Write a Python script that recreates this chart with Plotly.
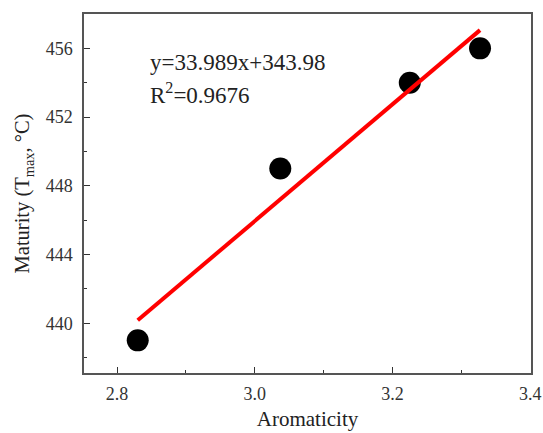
import plotly.graph_objects as go

aromaticity = [2.83, 3.037, 3.225, 3.327]
maturity = [439.0, 449.0, 454.0, 456.0]
fit_slope = 33.989
fit_intercept = 343.98
r_squared = 0.9676

fit_x = [min(aromaticity), max(aromaticity)]
fit_y = [fit_slope * v + fit_intercept for v in fit_x]

font_family = "Liberation Serif"

fig = go.Figure()
fig.add_trace(go.Scatter(x=aromaticity, y=maturity, mode="markers",
                         marker=dict(color="black", size=22), showlegend=False))
fig.add_trace(go.Scatter(x=fit_x, y=fit_y, mode="lines",
                         line=dict(color="#ff0000", width=4), showlegend=False))

fig.add_annotation(x=0.143, y=0.865, xref="paper", yref="paper", xanchor="left", yanchor="middle",
                   text=f"y={fit_slope}x+{fit_intercept}", showarrow=False,
                   font=dict(family=font_family, size=23, color="#222"))
fig.add_annotation(x=0.143, y=0.778, xref="paper", yref="paper", xanchor="left", yanchor="middle",
                   text=f"R<sup>2</sup>={r_squared}", showarrow=False,
                   font=dict(family=font_family, size=23, color="#222"))

fig.update_layout(
    width=543, height=433, margin=dict(l=84, r=12, t=14, b=60),
    font=dict(family=font_family, size=18, color="#333"),
    plot_bgcolor="white", paper_bgcolor="white",
    xaxis=dict(range=[2.752, 3.401], tickmode="linear", tick0=2.8, dtick=0.2,
               tickformat=".1f", ticklabelstandoff=4,
               showgrid=False, zeroline=False, showline=True, mirror=True,
               linecolor="#555", linewidth=1.5, ticks="inside", ticklen=6,
               tickwidth=1, tickcolor="#333", automargin=False,
               tickfont=dict(family=font_family, size=18, color="#333"),
               minor=dict(dtick=0.1, tick0=2.8, ticks="inside", ticklen=3, tickcolor="#333", showgrid=False),
               title=dict(text="Aromaticity", font=dict(family=font_family, size=21, color="#222"), standoff=8)),
    yaxis=dict(range=[437.1, 458.0], tickmode="linear", tick0=440, dtick=4,
               ticklabelstandoff=6,
               showgrid=False, zeroline=False, showline=True, mirror=True,
               linecolor="#555", linewidth=1.5, ticks="inside", ticklen=6,
               tickwidth=1, tickcolor="#333", automargin=False,
               tickfont=dict(family=font_family, size=18, color="#333"),
               minor=dict(dtick=2, tick0=438, ticks="inside", ticklen=3, tickcolor="#333", showgrid=False),
               title=dict(text="Maturity (T<sub>max</sub>, °C)", font=dict(family=font_family, size=20.5, color="#222"), standoff=10)),
)

fig.write_html("out.html")
